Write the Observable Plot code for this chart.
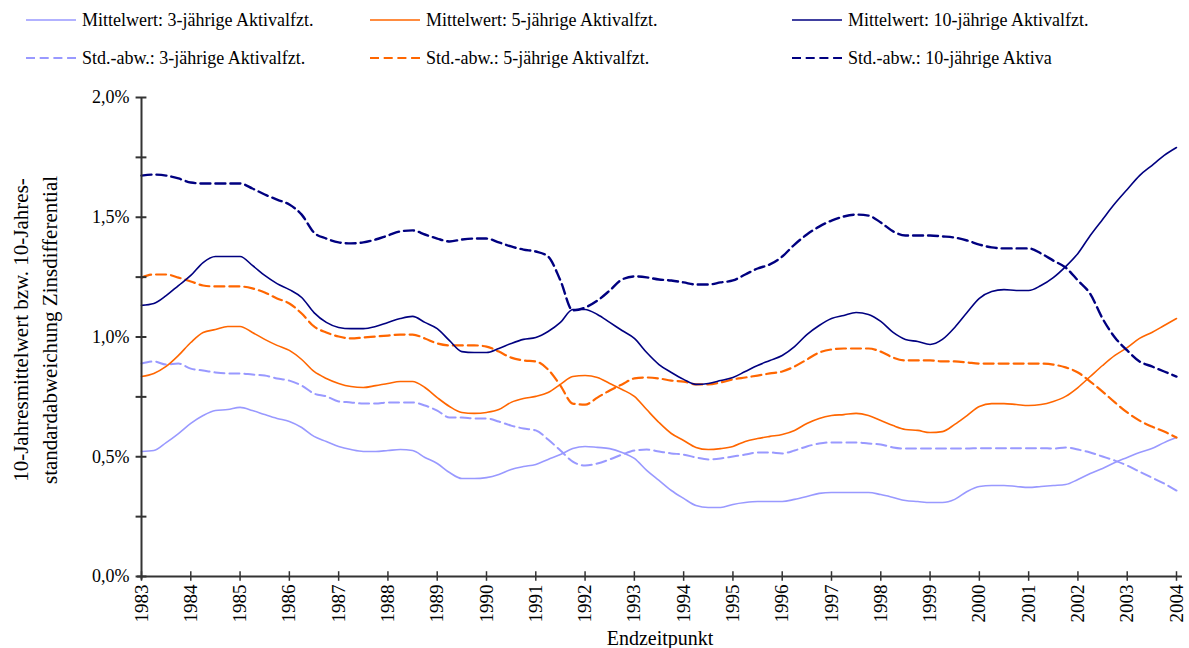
<!DOCTYPE html>
<html><head><meta charset="utf-8">
<script src="https://cdn.jsdelivr.net/npm/d3@7"></script>
<script src="https://cdn.jsdelivr.net/npm/@observablehq/plot@0.6"></script>
<style>
body{margin:0;background:#fff;font-family:"Liberation Serif","Times New Roman",serif;}
#wrap{position:relative;width:1189px;height:648px;}
#legend{position:absolute;left:0;top:0;width:1189px;height:80px;}
.item{position:absolute;display:flex;align-items:center;font-size:18px;white-space:nowrap;color:#000;height:22px;}
.item svg{margin-right:6px;}
</style></head><body>
<div id="wrap"><div id="chart"></div><div id="legend"></div></div>
<script>
// Quarterly end points (Endzeitpunkt)
const quarters = [
1983,1983.25,1983.5,1983.75,1984,1984.25,1984.5,1984.75,1985,1985.25,1985.5,1985.75,
1986,1986.25,1986.5,1986.75,1987,1987.25,1987.5,1987.75,1988,1988.25,1988.5,1988.75,
1989,1989.25,1989.5,1989.75,1990,1990.25,1990.5,1990.75,1991,1991.25,1991.5,1991.75,
1992,1992.25,1992.5,1992.75,1993,1993.25,1993.5,1993.75,1994,1994.25,1994.5,1994.75,
1995,1995.25,1995.5,1995.75,1996,1996.25,1996.5,1996.75,1997,1997.25,1997.5,1997.75,
1998,1998.25,1998.5,1998.75,1999,1999.25,1999.5,1999.75,2000,2000.25,2000.5,2000.75,
2001,2001.25,2001.5,2001.75,2002,2002.25,2002.5,2002.75,2003,2003.25,2003.5,2003.75,2004];

// values in percent
const mean3 = [.522,.526,.559,.597, .639,.672,.693,.697, .706,.693,.676,.660, .647,.622,.585,.564,
 .543,.530,.522,.522, .526,.530,.526,.497, .472,.434,.409,.409, .413,.426,.447,.459,
 .468,.489,.509,.534, .543,.539,.534,.518, .493,.443,.401,.359, .326,.296,.288,.288,
 .301,.309,.313,.313, .313,.322,.334,.347, .351,.351,.351,.351, .342,.330,.317,.313,
 .309,.309,.322,.355, .376,.380,.380,.376, .372,.376,.380,.384, .405,.430,.451,.476,
 .497,.518,.534,.559, .580];
const std3 = [.889,.898,.885,.889, .868,.860,.852,.848, .848,.843,.839,.827, .818,.797,.764,.752,
 .731,.727,.722,.722, .727,.727,.727,.714, .693,.664,.664,.660, .660,.647,.630,.618,
 .610,.572,.526,.480, .463,.472,.489,.509, .526,.530,.522,.514, .509,.497,.489,.493,
 .501,.509,.518,.518, .514,.526,.543,.555, .560,.560,.560,.555, .551,.539,.534,.534,
 .534,.534,.534,.534, .536,.536,.536,.536, .536,.536,.534,.539, .530,.518,.501,.484,
 .463,.438,.413,.388, .359];
const mean5 = [.835,.848,.877,.923, .977,1.019,1.031,1.044, 1.044,1.019,.990,.965, .944,.906,.856,.827,
 .806,.793,.789,.797, .806,.814,.814,.789, .747,.710,.685,.681, .685,.697,.727,.743,
 .752,.768,.802,.835, .839,.831,.806,.781, .752,.697,.643,.597, .568,.539,.530,.534,
 .543,.564,.576,.585, .593,.610,.639,.660, .672,.676,.681,.672, .651,.630,.614,.610,
 .601,.605,.635,.672, .710,.722,.722,.718, .714,.718,.731,.752, .789,.835,.881,.923,
 .956,.994,1.019,1.048, 1.077];
const std5 = [1.248,1.261,1.261,1.248, 1.232,1.215,1.211,1.211, 1.211,1.203,1.186,1.161, 1.140,1.098,1.044,1.019,
 1.002,.994,.998,1.002, 1.006,1.010,1.010,.994, .973,.965,.965,.965, .960,.939,.914,.902,
 .898,.864,.797,.722, .718,.747,.777,.802, .827,.831,.827,.818, .814,.802,.802,.810,
 .823,.831,.839,.848, .856,.877,.906,.935, .948,.952,.952,.952, .939,.914,.902,.902,
 .902,.898,.898,.894, .889,.889,.889,.889, .889,.889,.885,.873, .852,.814,.772,.727,
 .685,.651,.626,.605, .580];
const mean10 = [1.132,1.140,1.173,1.215, 1.257,1.311,1.336,1.336, 1.336,1.299,1.257,1.223, 1.198,1.165,1.102,1.061,
 1.040,1.035,1.035,1.044, 1.061,1.077,1.086,1.061, 1.035,.985,.939,.935, .935,.952,.973,.990,
 .998,1.023,1.061,1.115, 1.115,1.094,1.061,1.027, .994,.935,.885,.852, .823,.802,.806,.818,
 .831,.856,.881,.902, .923,.960,1.010,1.048, 1.077,1.090,1.102,1.094, 1.065,1.019,.990,.981,
 .969,.990,1.040,1.102, 1.161,1.190,1.198,1.194, 1.194,1.215,1.248,1.294, 1.349,1.424,1.491,1.557,
 1.616,1.674,1.716,1.758, 1.791];
const std10 = [1.674,1.678,1.674,1.662, 1.645,1.641,1.641,1.641, 1.641,1.620,1.595,1.574, 1.553,1.511,1.436,1.411,
 1.395,1.391,1.395,1.407, 1.424,1.441,1.445,1.428, 1.411,1.399,1.407,1.411, 1.411,1.395,1.378,1.365,
 1.357,1.336,1.236,1.111, 1.123,1.152,1.194,1.240, 1.253,1.249,1.240,1.236, 1.228,1.219,1.219,1.228,
 1.236,1.261,1.286,1.303, 1.336,1.386,1.428,1.461, 1.486,1.503,1.511,1.507, 1.478,1.441,1.424,1.424,
 1.424,1.420,1.415,1.403, 1.386,1.374,1.370,1.370, 1.370,1.349,1.319,1.290, 1.236,1.180,1.077,.998,
 .944,.898,.877,.856, .835];

const yearTicks = [1983,1984,1985,1986,1987,1988,1989,1990,1991,1992,1993,1994,1995,1996,1997,1998,1999,2000,2001,2002,2003,2004];
const yLabelTicks = [0, 0.5, 1, 1.5, 2];
const yAllTicks = [0, 0.25, 0.5, 0.75, 1, 1.25, 1.5, 1.75, 2];

const seriesLabels = [
  "Mittelwert: 3-jährige Aktivalfzt.", "Std.-abw.: 3-jährige Aktivalfzt.",
  "Mittelwert: 5-jährige Aktivalfzt.", "Std.-abw.: 5-jährige Aktivalfzt.",
  "Mittelwert: 10-jährige Aktivalfzt.", "Std.-abw.: 10-jährige Aktiva"];
const seriesValues = [mean3, std3, mean5, std5, mean10, std10];

// styles
const styles = [
  {stroke:"#9999ff", width:1.6, dash:null},
  {stroke:"#9999ff", width:2, dash:"10,5"},
  {stroke:"#ff6600", width:1.6, dash:null},
  {stroke:"#ff6600", width:2.2, dash:"10,5"},
  {stroke:"#000080", width:1.6, dash:null},
  {stroke:"#000080", width:2.4, dash:"10,5"}
];

const fmt = d => d.toFixed(1).replace(".", ",") + "%";

const lineMarks = seriesValues.map((vals, i) => {
  const data = quarters.map((q, j) => ({date: q, value: vals[j]}));
  return Plot.line(data, {x: "date", y: "value", stroke: styles[i].stroke,
    strokeWidth: styles[i].width, strokeDasharray: styles[i].dash || undefined, curve: "monotone-x"});
});
// draw order: dashed light, solid light, orange, navy
const order = [1, 0, 3, 2, 5, 4];

const chart = Plot.plot({
  width: 1189, height: 648,
  marginLeft: 141, marginRight: 13, marginTop: 97, marginBottom: 72,
  style: {fontFamily: '"Liberation Serif","Times New Roman",serif', fontSize: "18px", color: "#000", background: "#fff", overflow: "visible"},
  x: {domain: [1983, 2004]},
  y: {domain: [0, 2]},
  marks: [
    ...order.map(i => lineMarks[i]),
    Plot.ruleX([1983], {y1: -0.015, y2: 2, stroke: "#333", strokeWidth: 2}),
    Plot.ruleY([0], {x1: 1982.92, x2: 2004.12, stroke: "#333", strokeWidth: 2}),
    Plot.ruleY(yAllTicks, {y: d => d, x1: 1983 - 0.11, x2: 1983 + 0.11, stroke: "#333", strokeWidth: 2}),
    Plot.ruleX(yearTicks, {x: d => d, y1: -0.02, y2: 0.02, stroke: "#333", strokeWidth: 1.5}),
    Plot.axisY(yLabelTicks, {tickSize: 0, tickPadding: 12, tickFormat: fmt, label: null, fontSize: 18}),
    Plot.axisX(yearTicks, {tickSize: 0, tickPadding: 8, tickRotate: -90, tickFormat: d => String(d), label: null, fontSize: 19})
  ]
});
document.getElementById("chart").appendChild(chart);

// axis titles
const svg = d3.select(chart);
const yt = svg.append("text").attr("transform", "rotate(-90)")
  .attr("text-anchor", "middle").attr("font-size", 21).attr("fill", "#000");
yt.append("tspan").attr("x", -330).attr("y", 28).text("10-Jahresmittelwert bzw. 10-Jahres-");
yt.append("tspan").attr("x", -330).attr("y", 57).text("standardabweichung Zinsdifferential");
svg.append("text").attr("x", 660).attr("y", 645).attr("text-anchor", "middle")
  .attr("font-size", 20).attr("fill", "#000").text("Endzeitpunkt");

// legend
const legendPos = [
  {left: 26, top: 9}, {left: 26, top: 47},
  {left: 370, top: 9}, {left: 370, top: 47},
  {left: 792, top: 9}, {left: 792, top: 47}
];
const legend = d3.select("#legend");
seriesLabels.forEach((lab, i) => {
  const it = legend.append("div").attr("class", "item")
    .style("left", legendPos[i].left + "px").style("top", legendPos[i].top + "px");
  const sw = it.append("svg").attr("width", 50).attr("height", 8);
  sw.append("line").attr("x1", 0).attr("x2", 50).attr("y1", 4).attr("y2", 4)
    .attr("stroke", styles[i].stroke).attr("stroke-width", styles[i].dash ? 2.2 : 1.6)
    .attr("stroke-dasharray", styles[i].dash ? "9,4.7" : null);
  it.append("span").text(lab);
});
</script></body></html>
